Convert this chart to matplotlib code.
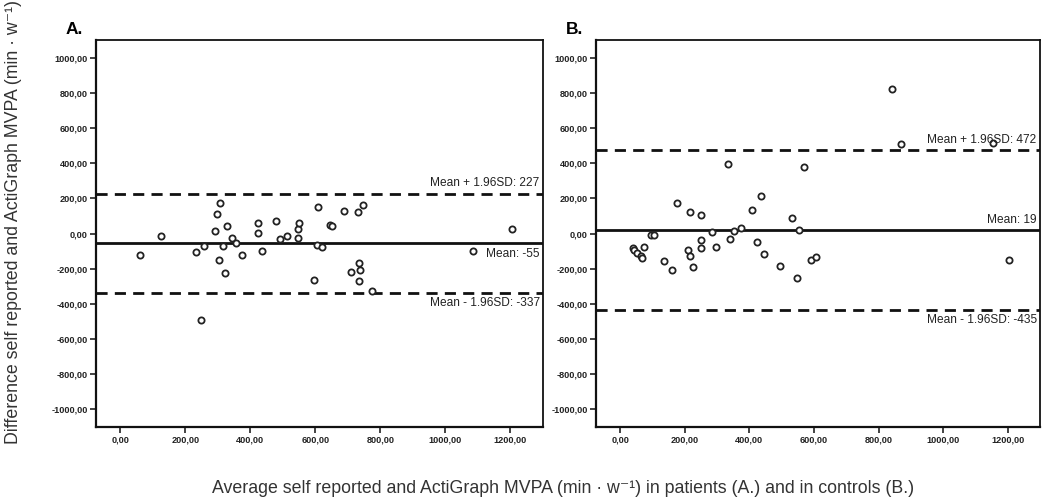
import numpy as np
import matplotlib
matplotlib.use("Agg")
import matplotlib.pyplot as plt
from matplotlib.ticker import FuncFormatter

plt.rcParams["font.family"] = ["Liberation Sans", "DejaVu Sans"]

# Patients (A.): mean of the two methods vs. their difference
avg_a = [60, 124, 233, 257, 249, 290, 298, 308, 328, 316, 303, 321, 342, 356,
         373, 423, 423, 435, 479, 492, 513, 545, 545, 550, 604, 619, 609, 596,
         645, 652, 687, 730, 746, 711, 734, 736, 734, 775, 1206, 1085]
diff_a = [-125, -15, -106, -72, -494, 17, 110, 174, 42, -72, -153, -223, -27,
          -55, -125, 57, 4, -100, 70, -34, -15, -27, 23, 61, -66, -76, 152,
          -265, 51, 45, 127, 121, 161, -216, -170, -205, -271, -328, 27, -97]

# Controls (B.)
avg_b = [843, 871, 1156, 334, 568, 177, 217, 251, 437, 409, 533, 553, 285, 351,
         375, 94, 106, 39, 44, 53, 63, 67, 75, 137, 161, 210, 215, 226, 250,
         249, 298, 339, 425, 446, 494, 546, 592, 606, 1204]
diff_b = [824, 510, 515, 396, 377, 174, 123, 108, 212, 136, 89, 19, 10, 13,
          30, -11, -6, -81, -91, -110, -129, -138, -76, -157, -205, -91, -129,
          -191, -38, -81, -78, -30, -49, -114, -182, -252, -148, -132, -148]

mean_a, upper_a, lower_a = -55, 227, -337
mean_b, upper_b, lower_b = 19, 472, -435

y_ticks = np.arange(-1000, 1001, 200)
x_ticks = np.arange(0, 1201, 200)


def comma_fmt(v, pos):
    return f"{v:.2f}".replace(".", ",")


def bland_altman(ax, x, y, mean, upper, lower, tag, mean_above):
    ax.scatter(x, y, s=20, facecolors="white", edgecolors="#222222",
               linewidths=1.3, zorder=3)
    ax.axhline(mean, color="#111111", lw=2.0, zorder=2)
    ax.axhline(upper, color="#111111", lw=2.0, ls=(0, (4, 2.6)), zorder=2)
    ax.axhline(lower, color="#111111", lw=2.0, ls=(0, (4, 2.6)), zorder=2)

    ax.set_xlim(-75, 1300)
    ax.set_ylim(-1100, 1100)
    ax.set_xticks(x_ticks)
    ax.set_yticks(y_ticks)
    ax.xaxis.set_major_formatter(FuncFormatter(comma_fmt))
    ax.yaxis.set_major_formatter(FuncFormatter(comma_fmt))
    ax.tick_params(direction="out", length=4, width=1.2, labelsize=6.6,
                   colors="#222222", pad=2)
    for lab in ax.get_xticklabels() + ax.get_yticklabels():
        lab.set_fontweight("bold")
    for s in ax.spines.values():
        s.set_linewidth(1.6)
        s.set_color("#111111")
    for s in ("top", "right"):
        ax.spines[s].set_linewidth(1.3)

    xr = 1290
    kw = dict(ha="right", fontsize=8.6, color="#222222", zorder=4)
    ax.text(xr, upper + 25, f"Mean + 1.96SD: {upper}", va="bottom", **kw)
    if mean_above:
        ax.text(xr, mean + 25, f"Mean: {mean}", va="bottom", **kw)
    else:
        ax.text(xr, mean - 25, f"Mean: {mean}", va="top", **kw)
    ax.text(xr, lower - 25, f"Mean - 1.96SD: {lower}", va="top", **kw)

    ax.text(-0.068, 1.008, tag, transform=ax.transAxes, fontsize=12.5,
            fontweight="bold", ha="left", va="bottom")


fig = plt.figure(figsize=(10.42, 4.99), dpi=100)
ax_a = fig.add_axes([0.0921, 0.1443, 0.429, 0.7755])
ax_b = fig.add_axes([0.572, 0.1443, 0.426, 0.7755])

bland_altman(ax_a, avg_a, diff_a, mean_a, upper_a, lower_a, "A.", False)
bland_altman(ax_b, avg_b, diff_b, mean_b, upper_b, lower_b, "B.", True)

fig.text(0.013, 0.555,
         "Difference self reported and ActiGraph MVPA (min \u00b7 w\u207b\u00b9)",
         rotation=90, ha="center", va="center", fontsize=12.8, color="#333333")
fig.text(0.54, 0.022,
         "Average self reported and ActiGraph MVPA (min \u00b7 w\u207b\u00b9) "
         "in patients (A.) and in controls (B.)",
         ha="center", va="center", fontsize=12.8, color="#333333")

fig.savefig("out.png", dpi=100, facecolor="white")
